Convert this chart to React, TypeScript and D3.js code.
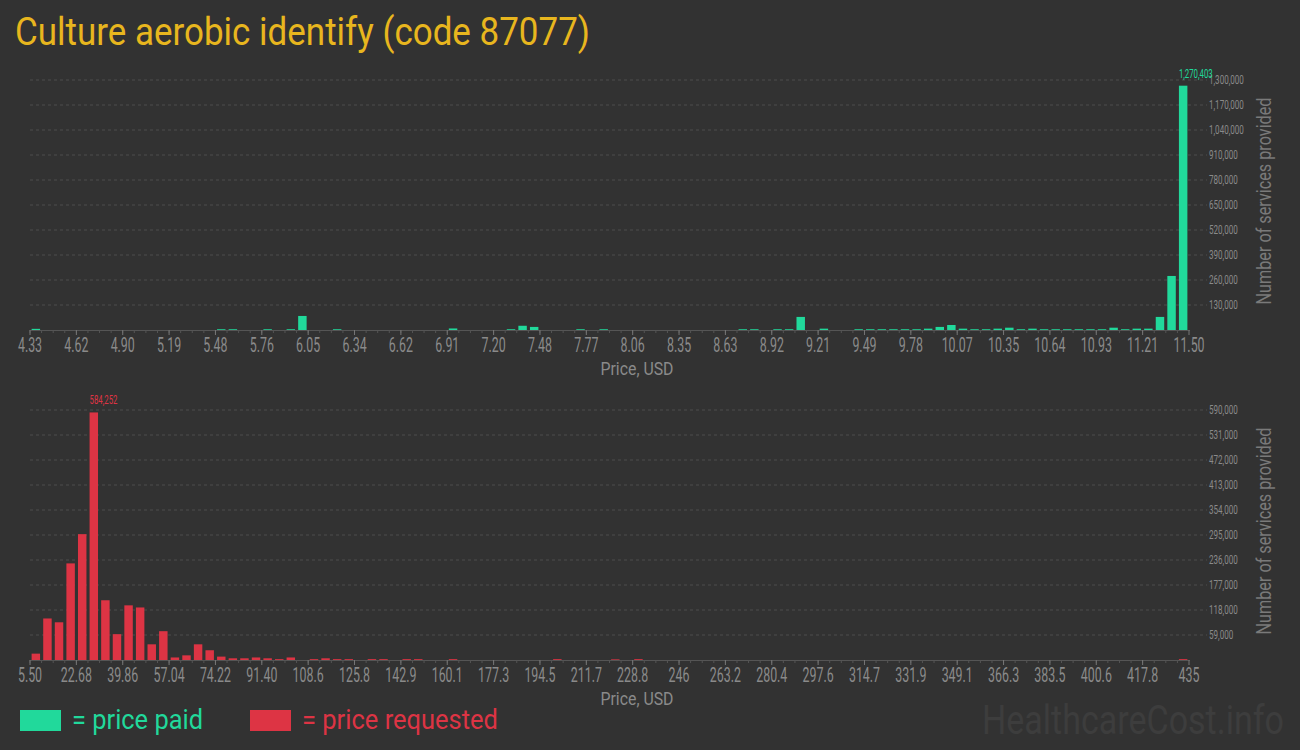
import React from "react";
import { scaleBand, scaleLinear, scalePoint } from "d3";

const W = 1300;
const H = 750;

// counts per price bin (100 bins each)
const paidCounts = [
  6000, 0, 0, 0, 0, 0, 0, 0, 0, 0,
  0, 0, 0, 0, 0, 0, 4000, 4000, 0, 0,
  4000, 0, 4000, 73000, 0, 0, 4000, 0, 0, 0,
  0, 0, 0, 0, 0, 0, 8000, 0, 0, 0,
  0, 4000, 22000, 16000, 0, 0, 0, 4000, 0, 4000,
  0, 0, 0, 0, 0, 0, 0, 0, 0, 0,
  0, 4000, 4000, 0, 4000, 4000, 68000, 0, 7000, 0,
  0, 4000, 4000, 4000, 4000, 4000, 4000, 7000, 16000, 26000,
  7000, 4000, 4000, 7000, 12000, 4000, 7000, 4000, 4000, 4000,
  4000, 4000, 4000, 12000, 4000, 7000, 7000, 68000, 281000, 1270403,
];

const requestedCounts = [
  15000, 98000, 89000, 228000, 297000, 584252, 141000, 61000, 129000, 124000,
  37000, 68000, 6000, 11000, 37000, 23000, 8000, 4000, 4000, 6000,
  4000, 2000, 6000, 0, 2000, 4000, 2000, 2000, 0, 2000,
  2000, 0, 2000, 2000, 0, 0, 2000, 0, 0, 0,
  0, 0, 0, 0, 0, 2000, 0, 0, 0, 0,
  1500, 0, 2000, 0, 0, 0, 0, 0, 0, 0,
  0, 0, 0, 0, 0, 0, 0, 0, 0, 0,
  0, 0, 0, 0, 0, 0, 0, 0, 0, 0,
  0, 0, 0, 0, 0, 0, 0, 0, 0, 0,
  0, 0, 0, 0, 0, 0, 0, 0, 0, 2000,
];

const paidTickLabels = [
  "4.33", "4.62", "4.90", "5.19", "5.48", "5.76", "6.05", "6.34", "6.62",
  "6.91", "7.20", "7.48", "7.77", "8.06", "8.35", "8.63", "8.92", "9.21",
  "9.49", "9.78", "10.07", "10.35", "10.64", "10.93", "11.21", "11.50",
];

const requestedTickLabels = [
  "5.50", "22.68", "39.86", "57.04", "74.22", "91.40", "108.6", "125.8",
  "142.9", "160.1", "177.3", "194.5", "211.7", "228.8", "246", "263.2",
  "280.4", "297.6", "314.7", "331.9", "349.1", "366.3", "383.5", "400.6",
  "417.8", "435",
];

const paidYTicks = [130000, 260000, 390000, 520000, 650000, 780000, 910000, 1040000, 1170000, 1300000];
const requestedYTicks = [59000, 118000, 177000, 236000, 295000, 354000, 413000, 472000, 531000, 590000];

const GREEN = "#21d99b";
const RED = "#dd3444";
const BG = "#323232";
const GRID = "#4c4c4c";
const AXIS = "#555";
const LABEL = "#8a8a8a";
const FONT = "Roboto, 'Noto Sans', sans-serif";

const fmt = (v: number) => v.toLocaleString("en-US");

interface CondProps {
  x: number;
  y: number;
  size: number;
  sx: number;
  anchor?: "start" | "middle" | "end";
  fill: string;
  children: React.ReactNode;
}
// narrow text, the source uses a condensed face
function Cond({ x, y, size, sx, anchor = "start", fill, children }: CondProps) {
  return (
    <text
      transform={`translate(${x},${y}) scale(${sx},1)`}
      fontSize={size}
      fill={fill}
      textAnchor={anchor}
      fontFamily={FONT}
    >
      {children}
    </text>
  );
}

interface PanelProps {
  counts: number[];
  tickLabels: string[];
  yTicks: number[];
  color: string;
  top: number;
  bottom: number;
}
function Panel({ counts, tickLabels, yTicks, color, top, bottom }: PanelProps) {
  const left = 30;
  const right = 1189;
  const yMax = yTicks[yTicks.length - 1];
  const y = scaleLinear().domain([0, yMax]).range([bottom, top]);
  const band = scaleBand<number>()
    .domain(counts.map((_, i) => i))
    .range([left, right])
    .paddingInner(0.27)
    .paddingOuter(0.14);
  const xTick = scalePoint<string>().domain(tickLabels).range([left, right]);
  const edge = scaleLinear().domain([0, counts.length]).range([left, right]);
  const maxIdx = counts.indexOf(Math.max(...counts));

  return (
    <g>
      {yTicks.map((t) => (
        <g key={`g-${t}`}>
          <line
            x1={left}
            x2={1207}
            y1={y(t)}
            y2={y(t)}
            stroke={GRID}
            strokeDasharray="3,3"
          />
          <Cond x={1209} y={y(t) + 4} size={13} sx={0.62} fill={LABEL}>
            {fmt(t)}
          </Cond>
        </g>
      ))}
      {counts.map((c, i) =>
        c > 0 ? (
          <rect
            key={`b-${i}`}
            x={band(i)!}
            y={y(c)}
            width={band.bandwidth()}
            height={bottom - y(c)}
            fill={color}
          />
        ) : null
      )}
      <line x1={left} x2={right + 1} y1={bottom + 0.5} y2={bottom + 0.5} stroke={AXIS} />
      {counts.map((_, i) => (
        <line
          key={`m-${i}`}
          x1={edge(i)}
          x2={edge(i)}
          y1={bottom}
          y2={bottom + 3}
          stroke={AXIS}
        />
      ))}
      {tickLabels.map((l) => (
        <g key={`t-${l}`}>
          <line x1={xTick(l)} x2={xTick(l)} y1={bottom} y2={bottom + 5} stroke="#777" />
          <Cond x={xTick(l)!} y={bottom + 22} size={20} sx={0.62} anchor="middle" fill={LABEL}>
            {l}
          </Cond>
        </g>
      ))}
      <Cond x={band(maxIdx)!} y={y(counts[maxIdx]) - 8} size={13} sx={0.6} fill={color}>
        {fmt(counts[maxIdx])}
      </Cond>
      <text
        x={637}
        y={bottom + 45}
        fontSize={18}
        fill={LABEL}
        textAnchor="middle"
        fontFamily={FONT}
        textLength={73}
        lengthAdjust="spacingAndGlyphs"
      >
        Price, USD
      </text>
      <text
        transform={`translate(1271,${(top + bottom) / 2 - 4}) rotate(-90)`}
        fontSize={20}
        fill="#7a7a7a"
        textAnchor="middle"
        fontFamily={FONT}
        textLength={207}
        lengthAdjust="spacingAndGlyphs"
      >
        Number of services provided
      </text>
    </g>
  );
}

export default function App() {
  return (
    <svg
      width={W}
      height={H}
      style={{ position: "absolute", left: 0, top: 0, display: "block" }}
    >
      <rect width={W} height={H} fill={BG} />
      <text
        x={15}
        y={45}
        fontSize={39}
        fill="#e8b61e"
        fontFamily={FONT}
        textLength={575}
        lengthAdjust="spacingAndGlyphs"
      >
        Culture aerobic identify (code 87077)
      </text>
      <Panel
        counts={paidCounts}
        tickLabels={paidTickLabels}
        yTicks={paidYTicks}
        color={GREEN}
        top={80}
        bottom={330}
      />
      <Panel
        counts={requestedCounts}
        tickLabels={requestedTickLabels}
        yTicks={requestedYTicks}
        color={RED}
        top={410}
        bottom={660}
      />
      <rect x={20} y={710} width={41} height={21} fill={GREEN} />
      <text
        x={72}
        y={729}
        fontSize={28}
        fill={GREEN}
        fontFamily={FONT}
        textLength={131}
        lengthAdjust="spacingAndGlyphs"
      >
        = price paid
      </text>
      <rect x={250} y={710} width={41} height={21} fill={RED} />
      <text
        x={302}
        y={729}
        fontSize={28}
        fill={RED}
        fontFamily={FONT}
        textLength={196}
        lengthAdjust="spacingAndGlyphs"
      >
        = price requested
      </text>
      <text
        x={982}
        y={734}
        fontSize={41}
        fill="#3d3d3d"
        fontFamily={FONT}
        textLength={302}
        lengthAdjust="spacingAndGlyphs"
      >
        HealthcareCost.info
      </text>
    </svg>
  );
}
